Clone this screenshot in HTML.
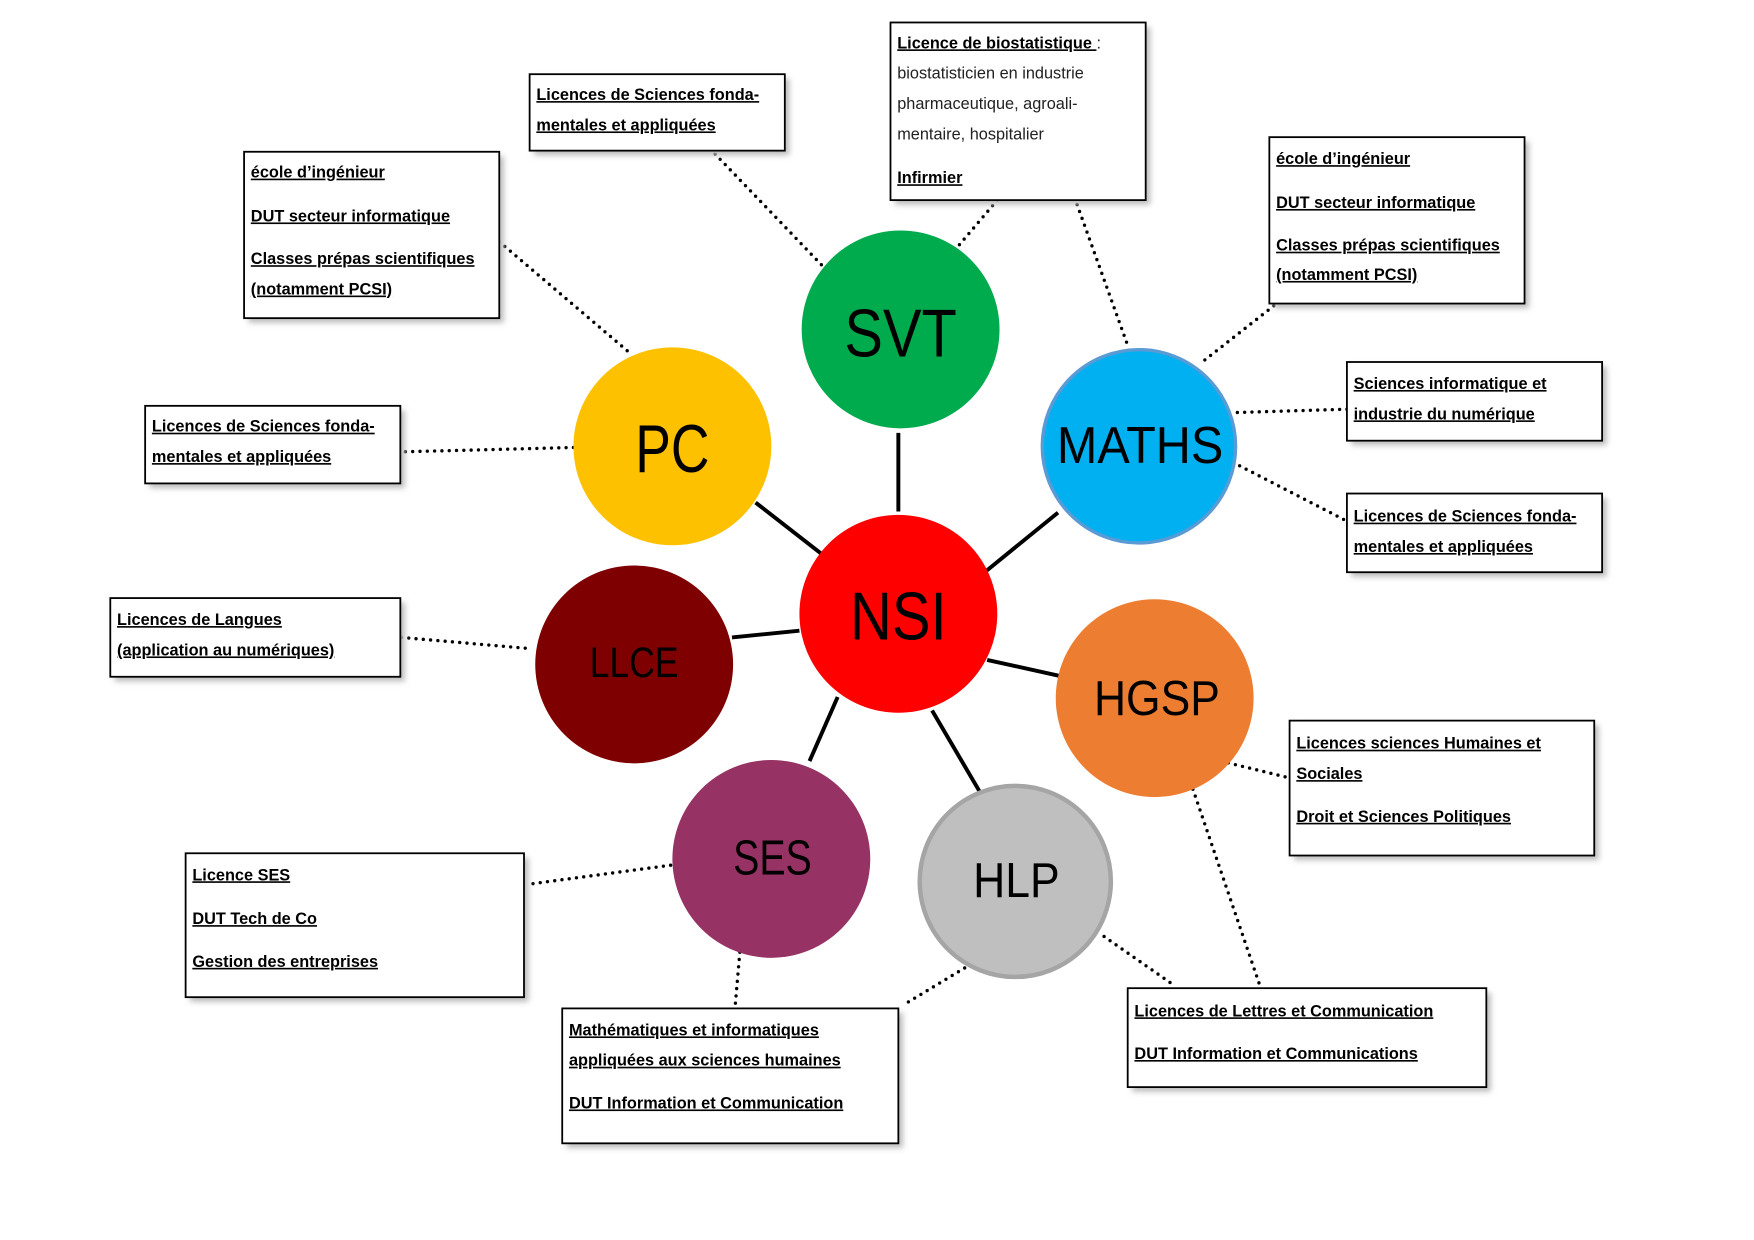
<!DOCTYPE html>
<html><head><meta charset="utf-8"><style>
html,body{margin:0;padding:0;background:#fff;}
svg{display:block}
.t{font-family:"Liberation Sans",sans-serif;font-size:14.5px;font-weight:bold;text-decoration:underline;fill:#000}
.n{font-family:"Liberation Sans",sans-serif;font-size:14.5px;fill:#222}
.c{font-family:"Liberation Sans",sans-serif;fill:#000;text-anchor:middle}
.d{stroke:#000;stroke-width:3;stroke-linecap:round;stroke-dasharray:0 6.5;fill:none}
.s{stroke:#000;stroke-width:3.5;fill:none}
.b{fill:#fff;stroke:#000;stroke-width:1.6}
.sh{fill:#bbb}
</style></head><body>
<svg width="1754" height="1240" viewBox="0 0 1560 1103" xmlns="http://www.w3.org/2000/svg">
<defs><filter id="f" x="-10%" y="-10%" width="130%" height="140%"><feGaussianBlur stdDeviation="2.5"/></filter></defs>
<line class="s" x1="799" y1="385" x2="799" y2="455"/>
<line class="s" x1="672" y1="447" x2="731" y2="493"/>
<line class="s" x1="941" y1="456" x2="877" y2="508"/>
<line class="s" x1="651" y1="567" x2="711" y2="561"/>
<line class="s" x1="878" y1="587" x2="946" y2="602"/>
<line class="s" x1="720" y1="677" x2="745" y2="620"/>
<line class="s" x1="829" y1="632" x2="873" y2="707"/>
<line class="d" x1="636" y1="137" x2="731" y2="236"/>
<line class="d" x1="887" y1="178" x2="853" y2="218"/>
<line class="d" x1="958" y1="182" x2="1004" y2="310"/>
<line class="d" x1="444" y1="215" x2="559" y2="313"/>
<line class="d" x1="1133" y1="272" x2="1068" y2="323"/>
<line class="d" x1="354" y1="402" x2="511" y2="398"/>
<line class="d" x1="1198" y1="364" x2="1098" y2="367"/>
<line class="d" x1="1195" y1="462" x2="1100" y2="413"/>
<line class="d" x1="357" y1="567" x2="472" y2="577"/>
<line class="d" x1="1143" y1="691" x2="1090" y2="678"/>
<line class="d" x1="1061" y1="702" x2="1120" y2="875"/>
<line class="d" x1="474" y1="786" x2="601" y2="769"/>
<line class="d" x1="658" y1="847" x2="654" y2="893"/>
<line class="d" x1="858" y1="861" x2="805" y2="893"/>
<line class="d" x1="982" y1="833" x2="1045" y2="877"/>
<circle cx="801" cy="293" r="88" fill="#00AB4E"/>
<circle cx="598" cy="397" r="88" fill="#FDC100"/>
<circle cx="1013" cy="397" r="86" fill="#00B0F0" stroke="#5B9BD5" stroke-width="3"/>
<circle cx="799" cy="546" r="88" fill="#FF0000"/>
<circle cx="564" cy="591" r="88" fill="#7F0000"/>
<circle cx="1027" cy="621" r="88" fill="#ED7D31"/>
<circle cx="686" cy="764" r="88" fill="#963264"/>
<circle cx="903" cy="784" r="85" fill="#BFBFBF" stroke="#A5A5A5" stroke-width="4"/>
<text class="c" x="801" y="317" font-size="60" textLength="100" lengthAdjust="spacingAndGlyphs">SVT</text>
<text class="c" x="598" y="420" font-size="60" textLength="66" lengthAdjust="spacingAndGlyphs">PC</text>
<text class="c" x="1014" y="412" font-size="46" textLength="148" lengthAdjust="spacingAndGlyphs">MATHS</text>
<text class="c" x="799" y="569" font-size="60" textLength="86" lengthAdjust="spacingAndGlyphs">NSI</text>
<text class="c" x="564" y="602" font-size="38" textLength="79" lengthAdjust="spacingAndGlyphs">LLCE</text>
<text class="c" x="1029" y="636" font-size="44" textLength="112" lengthAdjust="spacingAndGlyphs">HGSP</text>
<text class="c" x="687" y="778" font-size="44" textLength="70" lengthAdjust="spacingAndGlyphs">SES</text>
<text class="c" x="904" y="798" font-size="44" textLength="77" lengthAdjust="spacingAndGlyphs">HLP</text>
<g>
<rect class="sh" x="475" y="70" width="227" height="68" filter="url(#f)"/><rect class="b" x="471" y="66" width="227" height="68"/>
<text class="t" x="477" y="89">Licences de Sciences fonda-</text><text class="t" x="477" y="116">mentales et appliquées</text>
</g>
<g>
<rect class="sh" x="796" y="24" width="227" height="158" filter="url(#f)"/><rect class="b" x="792" y="20" width="227" height="158"/>
<text x="798" y="43"><tspan class="t">Licence de biostatistique </tspan><tspan class="n"> :</tspan></text>
<text class="n" x="798" y="70">biostatisticien en industrie</text>
<text class="n" x="798" y="97">pharmaceutique, agroali-</text>
<text class="n" x="798" y="124">mentaire, hospitalier</text>
<text class="t" x="798" y="163">Infirmier</text>
</g>
<g>
<rect class="sh" x="221" y="139" width="227" height="148" filter="url(#f)"/><rect class="b" x="217" y="135" width="227" height="148"/>
<text class="t" x="223" y="158">école d’ingénieur</text><text class="t" x="223" y="197">DUT secteur informatique</text>
<text class="t" x="223" y="235">Classes prépas scientifiques</text><text class="t" x="223" y="262">(notamment PCSI)</text>
</g>
<g>
<rect class="sh" x="1133" y="126" width="227" height="148" filter="url(#f)"/><rect class="b" x="1129" y="122" width="227" height="148"/>
<text class="t" x="1135" y="146">école d’ingénieur</text><text class="t" x="1135" y="185">DUT secteur informatique</text>
<text class="t" x="1135" y="223">Classes prépas scientifiques</text><text class="t" x="1135" y="249">(notamment PCSI)</text>
</g>
<g>
<rect class="sh" x="133" y="365" width="227" height="69" filter="url(#f)"/><rect class="b" x="129" y="361" width="227" height="69"/>
<text class="t" x="135" y="384">Licences de Sciences fonda-</text><text class="t" x="135" y="411">mentales et appliquées</text>
</g>
<g>
<rect class="sh" x="1202" y="326" width="227" height="70" filter="url(#f)"/><rect class="b" x="1198" y="322" width="227" height="70"/>
<text class="t" x="1204" y="346">Sciences informatique et</text><text class="t" x="1204" y="373">industrie du numérique</text>
</g>
<g>
<rect class="sh" x="1202" y="443" width="227" height="70" filter="url(#f)"/><rect class="b" x="1198" y="439" width="227" height="70"/>
<text class="t" x="1204" y="464">Licences de Sciences fonda-</text><text class="t" x="1204" y="491">mentales et appliquées</text>
</g>
<g>
<rect class="sh" x="102" y="536" width="258" height="70" filter="url(#f)"/><rect class="b" x="98" y="532" width="258" height="70"/>
<text class="t" x="104" y="556">Licences de Langues</text><text class="t" x="104" y="583">(application au numériques)</text>
</g>
<g>
<rect class="sh" x="1151" y="645" width="271" height="120" filter="url(#f)"/><rect class="b" x="1147" y="641" width="271" height="120"/>
<text class="t" x="1153" y="666">Licences sciences Humaines et</text><text class="t" x="1153" y="693">Sociales</text>
<text class="t" x="1153" y="731">Droit et Sciences Politiques</text>
</g>
<g>
<rect class="sh" x="169" y="763" width="301" height="128" filter="url(#f)"/><rect class="b" x="165" y="759" width="301" height="128"/>
<text class="t" x="171" y="783">Licence SES</text><text class="t" x="171" y="822">DUT Tech de Co</text>
<text class="t" x="171" y="860">Gestion des entreprises</text>
</g>
<g>
<rect class="sh" x="504" y="901" width="299" height="120" filter="url(#f)"/><rect class="b" x="500" y="897" width="299" height="120"/>
<text class="t" x="506" y="921">Mathématiques et informatiques</text><text class="t" x="506" y="948">appliquées aux sciences humaines</text>
<text class="t" x="506" y="986">DUT Information et Communication</text>
</g>
<g>
<rect class="sh" x="1007" y="883" width="319" height="88" filter="url(#f)"/><rect class="b" x="1003" y="879" width="319" height="88"/>
<text class="t" x="1009" y="904">Licences de Lettres et Communication</text>
<text class="t" x="1009" y="942">DUT Information et Communications</text>
</g>
</svg>
</body></html>
